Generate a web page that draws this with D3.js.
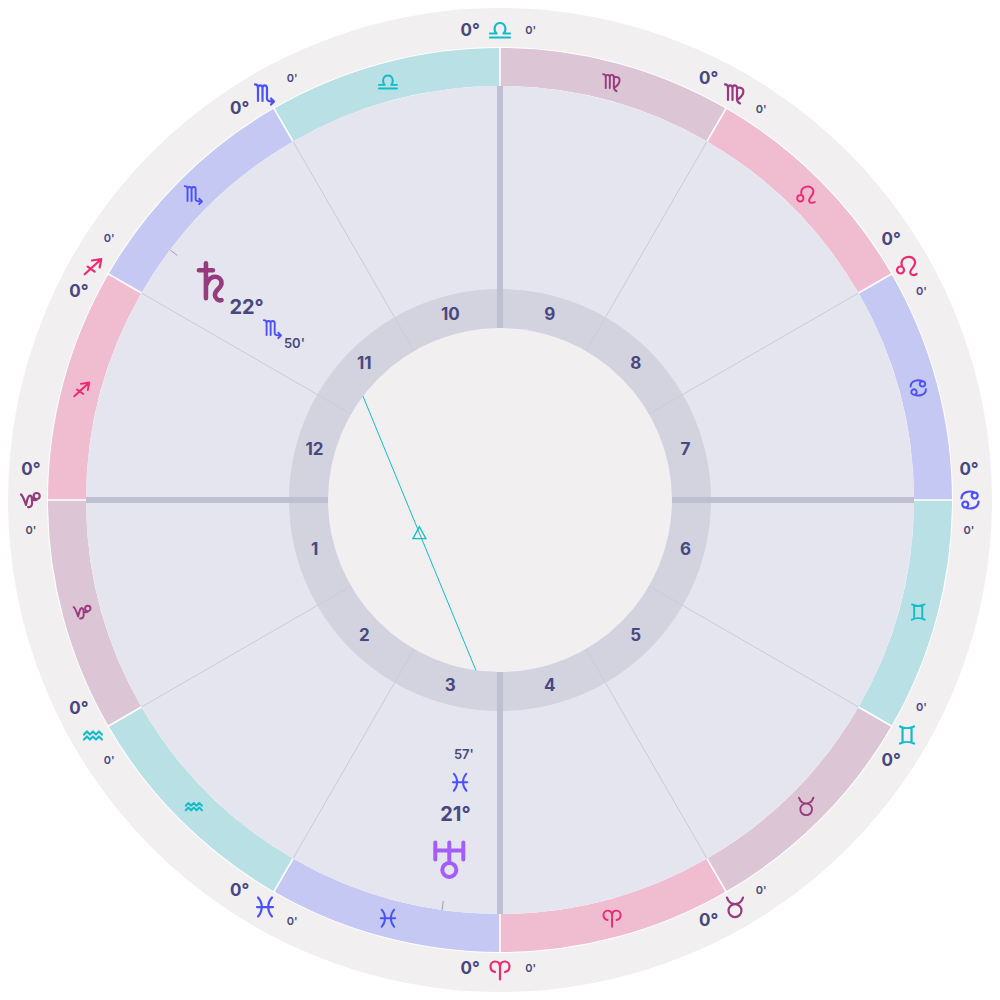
<!DOCTYPE html>
<html><head><meta charset="utf-8">
<script src="https://cdn.jsdelivr.net/npm/d3@7"></script>
<style>html,body{margin:0;padding:0;background:#fff}svg{display:block}text{font-family:Inter,"Noto Sans",sans-serif}</style>
</head><body><svg id="c" width="1000" height="1000"></svg>
<script>
// ---- data ----
const signs = ["aries","taurus","gemini","cancer","leo","virgo","libra","scorpio","sagittarius","capricorn","aquarius","pisces"];
const signElements = ["fire","earth","air","water","fire","earth","air","water","fire","earth","air","water"];
const cuspLongitudes = [270,300,330,0,30,60,90,120,150,180,210,240];
const houseNumbers = [1,2,3,4,5,6,7,8,9,10,11,12];
const cuspDegrees = [0,0,0,0,0,0,0,0,0,0,0,0];
const cuspMinutes = [0,0,0,0,0,0,0,0,0,0,0,0];
const planetNames = ["saturn","uranus"];
const planetSigns = ["scorpio","pisces"];
const planetDegrees = [22,21];
const planetMinutes = [50,57];
const aspects = [["saturn","uranus"]];

// ---- style ----
const C = {outer:"#f1eff0", wheel:"#e4e5ee", ring:"#d3d3e0", axis:"#bfbfd4", thin:"#cbcbd7", text:"#48487f", tick:"#9c9cb0"};
const bandFill = {fire:"#efbcd0", earth:"#dcc5d4", air:"#b8e0e5", water:"#c5c8f3"};
const glyphFill = {fire:"#ec2a72", earth:"#973a7e", air:"#12bcc8", water:"#4a50fb"};
const R = {outer:492, bandO:452, bandI:414, ringO:211, ringI:172, house:192, cusp:470, band:433,
           pGlyph:362, pDeg:318, pSign:285, pMin:258};
const glyphs = {
 aries:"M0 9.500V-3C0-7-2-8.500-5-8.500C-8-8.500-9.500-6-9.500-3.500C-9.500-.5-7.500 1.500-5 2M0-3C0-7 2-8.500 5-8.500C8-8.500 9.500-6 9.500-3.500C9.500-.5 7.500 1.500 5 2",
 taurus:"M-8-9.500C-6-3.500-3-3 0-3C3-3 6-3.500 8-9.500M6.500 3.500A6.500 6.500 0 1 1-6.500 3.500A6.500 6.500 0 1 1 6.500 3.500",
 gemini:"M-7-8.500C-3-6.500 3-6.500 7-8.500M-7 8.500C-3 6.500 3 6.500 7 8.500M-4.500-7V7M4.500-7V7",
 cancer:"M7.700-4.500A3 3 0 1 1 1.700-4.500A3 3 0 1 1 7.700-4.500M4.700-7.500C0-9.500-8.500-8.500-8.500-1.500M-1.700 4.500A3 3 0 1 1-7.700 4.500A3 3 0 1 1-1.700 4.500M-4.700 7.500C0 9.500 8.500 8.500 8.500 1.500",
 leo:"M-3 5A3.500 3.500 0 1 1-10 5A3.500 3.500 0 1 1-3 5M-5 1.500C-9-8 6-12 8-3.500C9 2 1.500 4.500 3.500 8.500C4.500 10.500 7.500 10.500 9.500 9",
 virgo:"M-10-8.500C-8-8.500-7-7-7-5V7M-7-5C-7-8.500-2.500-8.500-2.500-5V7M-2.500-5C-2.500-8.500 2-8.500 2-5V6C2 8 3 9.500 5 10.500M2-5C10-7 11 1 2 7",
 libra:"M-10 3.500H-3.500C-7 0-5.500-7 0-7C5.500-7 7 0 3.500 3.500H10M-10 7.500H10",
 scorpio:"M-10-8.500C-8-8.500-7-7-7-5V8M-7-5C-7-8.500-2.500-8.500-2.500-5V8M-2.500-5C-2.500-8.500 2-8.500 2-5V6C2 8 4 8.500 8.500 8.500M6 5.500L9 8.500L6 11.500",
 sagittarius:"M-8.300 9.300L8.300-6M-1-4.500L8.300-6L6.700 2.500M-5.300 1.700L1.700 6.700",
 capricorn:"M-9-5.500C-7-4-6-1-4 5C-3 0-2-3-1-4C1-5.500 2-3 2 0C2.500 4 2 8-2 7M2-1C4 .5 6 .5 7.500-1M9.700-4A3 3 0 1 1 3.700-4A3 3 0 1 1 9.700-4",
 aquarius:"M-9-.5L-6-3.500L-3-.5L0-3.500L3-.5L6-3.500L9-.5M-9 4.500L-6 1.500L-3 4.500L0 1.500L3 4.500L6 1.500L9 4.500",
 pisces:"M-7-9.500C-2-4-2 4-7 9.500M7-9.500C2-4 2 4 7 9.500M-8 0H8"
};
const planetGlyphs = {
 saturn:{d:"M-12.600-11H1.400M-5.600-18V17M-5 3C-3-2 .5-4.500 3.400-4.500C7-4.500 10-2 10 2C10 7 3.400 8 3.400 13.800C3.400 17 7 20 10 18.800", color:"#973a7e", w:4.6},
 uranus:{d:"M-14-16V1M14-16V1M-14-8H14M0-16V4M7 11.500A7 7 0 1 1-7 11.500A7 7 0 1 1 7 11.500", color:"#a45cfb", w:4}
};

// ---- scales & helpers ----
const angle = d3.scaleLinear().domain([0,360]).range([Math.PI,-Math.PI]);
const pt = (lon,r) => d3.pointRadial(angle(lon),r);
const signIndex = n => signs.indexOf(n);
const lonOf = i => signIndex(planetSigns[i])*30 + planetDegrees[i] + planetMinutes[i]/60;
const arc = d3.arc();
const svg = d3.select("#c");
const g = svg.append("g").attr("transform","translate(500,500)");
const disc = (r,fill) => g.append("circle").attr("r",r).attr("fill",fill);

disc(R.outer,C.outer);
disc(R.bandO+1,"#fff");

// zodiac band
g.append("g").selectAll("path").data(signs).join("path")
 .attr("d",(s,i)=>arc({innerRadius:R.bandI,outerRadius:R.bandO,startAngle:angle(i*30+30),endAngle:angle(i*30)}))
 .attr("fill",(s,i)=>bandFill[signElements[i]]);
disc(R.bandI,C.wheel);
disc(R.ringO,C.ring);
disc(R.ringI,C.outer);

// separators across the band
g.append("g").selectAll("line").data(cuspLongitudes).join("line")
 .each(function(l){const a=pt(l,R.bandI),b=pt(l,R.bandO+1);d3.select(this).attr("x1",a[0]).attr("y1",a[1]).attr("x2",b[0]).attr("y2",b[1]);})
 .attr("stroke","#fff").attr("stroke-width",1.6);

// house cusps
g.append("g").selectAll("line").data(cuspLongitudes).join("line")
 .each(function(l){const a=pt(l,R.ringI),b=pt(l,R.bandI);d3.select(this).attr("x1",a[0]).attr("y1",a[1]).attr("x2",b[0]).attr("y2",b[1]);})
 .attr("stroke",l=>l%90===0?C.axis:C.thin)
 .attr("stroke-width",l=>l%90===0?6:1);

// house numbers
g.append("g").selectAll("text").data(houseNumbers).join("text")
 .attr("x",(h,i)=>pt(cuspLongitudes[i]+15,R.house)[0])
 .attr("y",(h,i)=>pt(cuspLongitudes[i]+15,R.house)[1])
 .attr("dy","0.3em").attr("text-anchor","middle")
 .attr("font-size",17).attr("font-weight",700).attr("fill",C.text).text(h=>h);

function glyph(name,lon,r,scale,w){
 const p=pt(lon,r);
 g.append("path").attr("d",glyphs[name]).attr("fill","none")
  .attr("stroke",glyphFill[signElements[signIndex(name)]])
  .attr("stroke-width",w).attr("stroke-linecap","round").attr("stroke-linejoin","round")
  .attr("transform",`translate(${p[0]},${p[1]}) scale(${scale})`);
}
function label(str,lon,r,size,weight){
 const p=pt(lon,r);
 g.append("text").attr("x",p[0]).attr("y",p[1]).attr("dy","0.3em").attr("text-anchor","middle")
  .attr("font-size",size).attr("font-weight",weight).attr("fill",C.text).text(str);
}

// sign glyphs in the band
signs.forEach((s,i)=>glyph(s,i*30+15,R.band,0.9,2.1));

// cusp labels in the outer ring
cuspLongitudes.forEach((l,i)=>{
 const sign=signs[Math.floor(l/30)%12];
 const dir=(l>=90&&l<270)?1:-1;
 label(cuspDegrees[i]+"°",l+dir*3.65,R.cusp,17,700);
 glyph(sign,l,R.cusp,1,2.2);
 label(cuspMinutes[i]+"'",l-dir*3.75,R.cusp,11,600);
});

// planets
planetNames.forEach((n,i)=>{
 const l=lonOf(i),a=pt(l,R.bandI),b=pt(l,R.bandI-9),p=pt(l,R.pGlyph),G=planetGlyphs[n];
 g.append("line").attr("x1",a[0]).attr("y1",a[1]).attr("x2",b[0]).attr("y2",b[1]).attr("stroke",C.tick).attr("stroke-width",1);
 g.append("path").attr("d",G.d).attr("fill","none").attr("stroke",G.color).attr("stroke-width",G.w)
  .attr("stroke-linecap","round").attr("stroke-linejoin","round").attr("transform",`translate(${p[0]},${p[1]})`);
 label(planetDegrees[i]+"°",l,R.pDeg,20,700);
 glyph(planetSigns[i],l,R.pSign,0.9,2.1);
 label(planetMinutes[i]+"'",l,R.pMin,13,600);
});

// aspects
aspects.forEach(([u,v])=>{
 const a=pt(lonOf(planetNames.indexOf(u)),R.ringI),b=pt(lonOf(planetNames.indexOf(v)),R.ringI);
 g.append("line").attr("x1",a[0]).attr("y1",a[1]).attr("x2",b[0]).attr("y2",b[1]).attr("stroke","#12bcc8").attr("stroke-width",1);
 const m=[(a[0]+b[0])/2,(a[1]+b[1])/2];
 g.append("path").attr("d","M0-6.500L6.500 5.500H-6.500Z").attr("fill","none").attr("stroke","#12bcc8").attr("stroke-width",1.3)
  .attr("transform",`translate(${m[0]},${m[1]})`);
});
</script></body></html>
